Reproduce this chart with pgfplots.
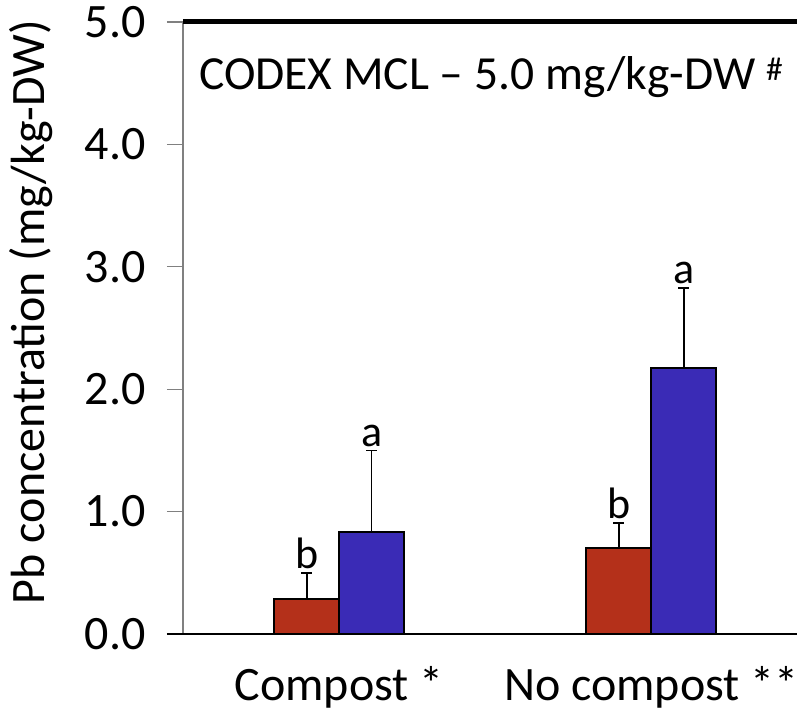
\documentclass[border=0pt]{standalone}
\usepackage{pgfplots}
\pgfplotsset{compat=1.18}
\usepackage{fontspec}
\setmainfont{Carlito}
\definecolor{barred}{RGB}{180,48,26}
\definecolor{barblue}{RGB}{58,43,182}
\definecolor{axgray}{RGB}{128,128,128}
\begin{document}
\begin{tikzpicture}
\begin{axis}[
  at={(0pt,0pt)}, anchor=south west,
  width=614pt, height=612pt, scale only axis,
  xmin=-0.5, xmax=1.467, ymin=0, ymax=5,
  axis line style={draw=none},
  xtick={0,1}, xticklabels={Compost *, No compost **},
  major x tick style={draw=none},
  extra x ticks={-0.5,0.5}, extra x tick labels={},
  extra x tick style={major tick length=15pt, tick align=outside, tick style={axgray, line width=1.2pt}},
  xtick pos=bottom,
  ytick={0,1,2,3,4,5},
  ytick pos=left,
  tick align=outside,
  major tick length=16pt,
  tick style={axgray, line width=1.2pt},
  /pgf/number format/assume math mode=true,
  yticklabel={\pgfmathprintnumber[fixed, fixed zerofill, precision=1]{\tick}},
  ticklabel style={font=\fontsize{48}{58}\selectfont},
  yticklabel style={xshift=-18pt},
  xticklabel style={yshift=-13pt},
  ylabel={Pb concentration (mg/kg-DW)},
  ylabel style={font=\fontsize{48}{58}\selectfont, at={(axis description cs:0,0.5)}, anchor=center, xshift=16pt, yshift=152pt},
  clip=false,
]
% axis lines
\draw[axgray, line width=1.5pt] (axis cs:-0.5,0) -- (axis cs:-0.5,5);
\draw[black, line width=1.5pt] ([xshift=-16pt]axis cs:-0.5,0) -- (axis cs:1.467,0);
\draw[black, line width=5pt] (axis cs:-0.5,5) -- (axis cs:1.467,5);
\node[anchor=base west, font=\fontsize{47.5}{57}\selectfont, inner sep=0pt] at ([xshift=16pt, yshift=-68pt]axis cs:-0.5,5) {CODEX MCL – 5.0 mg/kg-DW \textsuperscript{\#}};
% bars (x = category position -/+ half bar width)
\addplot[ybar, bar width=65pt, bar shift=0pt, fill=barred, draw=black, line width=2pt,
  error bars/.cd, y dir=plus, y explicit, error bar style={black, line width=1.8pt}, error mark options={black, line width=1.8pt, mark size=5.5pt, rotate=90}]
  table[x=x, y=y, y error=e] {
  x y e
  -0.104 0.29 0.21
  0.896 0.70 0.21
};
\addplot[ybar, bar width=65pt, bar shift=0pt, fill=barblue, draw=black, line width=2pt,
  error bars/.cd, y dir=plus, y explicit, error bar style={black, line width=1.8pt}, error mark options={black, line width=1.8pt, mark size=5.5pt, rotate=90}]
  table[x=x, y=y, y error=e] {
  x y e
  0.104 0.83 0.67
  1.104 2.17 0.66
};
% significance letters
\addplot[draw=none, mark=none, nodes near coords, point meta=explicit symbolic,
  nodes near coords style={anchor=south, inner sep=3.5pt, font=\fontsize{44}{52}\selectfont}]
  table[x=x, y=y, meta=lab] {
  x y lab
  -0.104 0.50 b
  0.104 1.50 a
  0.896 0.91 b
  1.104 2.83 a
};
\end{axis}
\pgfresetboundingbox
\path (-183pt,-86pt) rectangle (614pt,634pt);
\end{tikzpicture}
\end{document}
